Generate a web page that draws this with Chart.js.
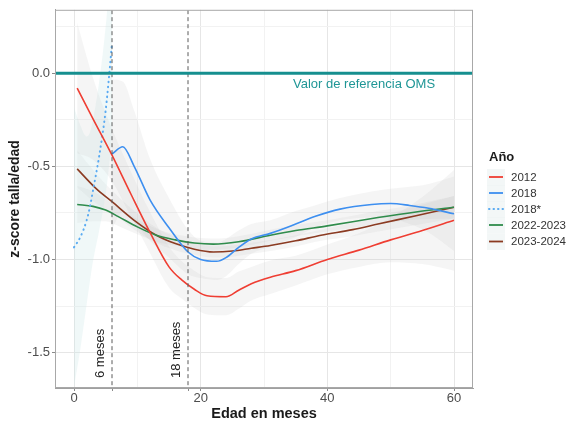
<!DOCTYPE html>
<html>
<head>
<meta charset="utf-8">
<script src="https://cdn.jsdelivr.net/npm/chart.js@4.4.1/dist/chart.umd.min.js"></script>
<style>
  html, body { margin: 0; padding: 0; background: #fff; }
  #wrap { width: 569px; height: 423px; position: relative; }
</style>
</head>
<body>
<div id="wrap"><canvas id="chart"></canvas></div>
<script>
// values (age in months, z-score)
const months2012 = [0.5, 3, 6, 9, 12, 15, 17, 19, 21, 24, 26, 28, 31, 35, 40, 45, 50, 55, 60];
const z2012 = [-0.08, -0.245, -0.44, -0.65, -0.855, -1.04, -1.11, -1.16, -1.195, -1.2, -1.165, -1.13, -1.095, -1.06, -1.0, -0.95, -0.895, -0.845, -0.79];
const ci2012 = [0.35, 0.22, 0.14, 0.12, 0.11, 0.11, 0.1, 0.1, 0.1, 0.1, 0.1, 0.09, 0.09, 0.08, 0.08, 0.09, 0.12, 0.18, 0.27];

const months2018 = [6, 7.7, 9.5, 12, 15, 18, 20, 22.5, 24, 26, 28, 31, 35, 38, 42, 47, 50, 53, 56, 60];
const z2018 = [-0.434, -0.395, -0.5, -0.68, -0.83, -0.96, -1.0, -1.01, -0.99, -0.935, -0.89, -0.86, -0.81, -0.77, -0.73, -0.705, -0.7, -0.71, -0.725, -0.755];
const ci2018 = [0.4, 0.35, 0.3, 0.22, 0.16, 0.12, 0.1, 0.1, 0.1, 0.09, 0.08, 0.07, 0.07, 0.06, 0.06, 0.07, 0.08, 0.1, 0.13, 0.2];

const months2018b = [0, 1, 2, 2.5, 3, 4, 5, 5.5, 6];
const z2018b = [-0.935, -0.88, -0.79, -0.72, -0.63, -0.44, -0.2, -0.03, 0.16];
const ci2018b = [0.75, 0.6, 0.45, 0.4, 0.38, 0.4, 0.45, 0.48, 0.5];

const months2022 = [0.5, 3, 5, 7, 10, 13, 16, 19, 22, 26, 31, 35, 40, 48, 54, 60];
const z2022 = [-0.705, -0.715, -0.735, -0.77, -0.825, -0.87, -0.895, -0.912, -0.918, -0.905, -0.87, -0.845, -0.82, -0.775, -0.745, -0.72];
const ci2022 = [0.1, 0.08, 0.06, 0.05, 0.04, 0.035, 0.03, 0.03, 0.03, 0.03, 0.03, 0.03, 0.03, 0.035, 0.04, 0.06];

const months2023 = [0.5, 3.5, 6, 9.5, 13, 16, 19, 22, 25, 28, 31, 35, 39, 44, 48, 54, 60];
const z2023 = [-0.514, -0.62, -0.69, -0.79, -0.87, -0.915, -0.945, -0.96, -0.955, -0.94, -0.925, -0.9, -0.87, -0.84, -0.81, -0.765, -0.72];
const ci2023 = [0.1, 0.08, 0.06, 0.05, 0.04, 0.035, 0.03, 0.03, 0.03, 0.03, 0.03, 0.03, 0.03, 0.035, 0.04, 0.05, 0.06];

const seriesLabels = ["2012", "2018", "2018*", "2022-2023", "2023-2024"];
const seriesColors = ["#ef3e33", "#3d8ff0", "#5aabf2", "#2f8c4c", "#8b3b22"];

const xTicks = [0, 6, 10, 18, 20, 30, 40, 50, 60];
const yTicks = [-1.5, -1.25, -1.0, -0.75, -0.5, -0.25, 0.0, 0.25];
const markerLines = [6, 18];
const markerLabels = ["6 meses", "18 meses"];

const toPoints = (xs, ys) => xs.map((x, i) => ({ x: x, y: ys[i] }));

const allSeries = [
  { months: months2012, z: z2012, ci: ci2012 },
  { months: months2018, z: z2018, ci: ci2018 },
  { months: months2018b, z: z2018b, ci: ci2018b },
  { months: months2022, z: z2022, ci: ci2022 },
  { months: months2023, z: z2023, ci: ci2023 },
];

const datasets = [];

// smoothed lines
allSeries.forEach((s, i) => {
  datasets.push({
    label: seriesLabels[i],
    data: toPoints(s.months, s.z),
    borderColor: seriesColors[i],
    borderWidth: i === 2 ? 2 : 1.6,
    borderDash: i === 2 ? [0.5, 4.5] : [],
    borderCapStyle: i === 2 ? "round" : "butt",
    cubicInterpolationMode: "monotone",
    pointRadius: 0,
    fill: false,
    order: 1,
  });
});

// reference line at 0
datasets.push({
  label: "ref",
  data: [{ x: -3, y: 0 }, { x: 63, y: 0 }],
  borderColor: "#168f8f",
  borderWidth: 3,
  pointRadius: 0,
  order: 0,
});

// vertical dashed markers
markerLines.forEach((m) => {
  datasets.push({
    label: "m" + m,
    data: [{ x: m, y: -1.75 }, { x: m, y: 0.4 }],
    borderColor: "#5a5a5a",
    borderWidth: 1,
    borderDash: [4, 3],
    pointRadius: 0,
    order: 0,
  });
});

// confidence bands (upper filled down to lower)
allSeries.forEach((s, i) => {
  const fillColor = i === 2 ? "rgba(205,232,232,0.3)" : "rgba(190,190,190,0.16)";
  datasets.push({
    label: "up" + i,
    data: toPoints(s.months, s.z.map((v, k) => v + s.ci[k])),
    borderWidth: 0,
    borderColor: "transparent",
    backgroundColor: fillColor,
    cubicInterpolationMode: "monotone",
    pointRadius: 0,
    fill: "+1",
    order: 5,
  });
  datasets.push({
    label: "lo" + i,
    data: toPoints(s.months, s.z.map((v, k) => v - s.ci[k])),
    borderWidth: 0,
    borderColor: "transparent",
    cubicInterpolationMode: "monotone",
    pointRadius: 0,
    fill: false,
    order: 5,
  });
});

const textFont = "'Liberation Sans', Arial, sans-serif";

const extrasPlugin = {
  id: "extras",
  afterDatasetsDraw(chart) {
    const ctx = chart.ctx;
    const xs = chart.scales.x;
    const ys = chart.scales.y;
    const area = chart.chartArea;
    ctx.save();

    // panel border
    ctx.strokeStyle = "#a8a8a8";
    ctx.lineWidth = 1;
    ctx.strokeRect(area.left + 0.5, area.top + 0.5, area.right - area.left - 1, area.bottom - area.top - 1);

    // reference text
    ctx.fillStyle = "#1f9696";
    ctx.font = "13px " + textFont;
    ctx.textAlign = "center";
    ctx.textBaseline = "middle";
    ctx.fillText("Valor de referencia OMS", xs.getPixelForValue(45.8), ys.getPixelForValue(-0.058));

    // marker labels, rotated
    ctx.fillStyle = "#222";
    ctx.font = "13px " + textFont;
    markerLines.forEach((m, i) => {
      const px = xs.getPixelForValue(m) - 5;
      const py = area.bottom - 10;
      ctx.save();
      ctx.translate(px, py);
      ctx.rotate(-Math.PI / 2);
      ctx.textAlign = "left";
      ctx.textBaseline = "bottom";
      ctx.fillText(markerLabels[i], 0, 0);
      ctx.restore();
    });

    // legend
    const lx = 489;
    ctx.fillStyle = "#1a1a1a";
    ctx.font = "bold 13px " + textFont;
    ctx.textAlign = "left";
    ctx.textBaseline = "middle";
    ctx.fillText("Año", lx, 157);
    const rowY = [177, 193, 209, 225, 241.5];
    ctx.font = "11.5px " + textFont;
    seriesLabels.forEach((lab, i) => {
      const y = rowY[i];
      ctx.fillStyle = "rgba(225,236,236,0.4)";
      ctx.fillRect(lx - 2, y - 8, 18, 16.5);
      ctx.strokeStyle = seriesColors[i];
      ctx.lineWidth = i === 2 ? 2 : 1.8;
      ctx.setLineDash(i === 2 ? [0.5, 4] : []);
      ctx.lineCap = i === 2 ? "round" : "butt";
      ctx.beginPath();
      ctx.moveTo(lx, y);
      ctx.lineTo(lx + 14, y);
      ctx.stroke();
      ctx.setLineDash([]);
      ctx.fillStyle = "#333";
      ctx.fillText(lab, 511, y + 0.5);
    });
    ctx.restore();
  },
};

new Chart(document.getElementById("chart"), {
  type: "line",
  data: { datasets: datasets },
  options: {
    responsive: true,
    maintainAspectRatio: false,
    animation: false,
    layout: { padding: { top: 9, right: 96, left: 0, bottom: 0 } },
    plugins: {
      legend: { display: false },
      tooltip: { enabled: false },
    },
    scales: {
      x: {
        type: "linear",
        min: -3,
        max: 63,
        afterBuildTicks: (scale) => {
          scale.ticks = xTicks.map((v) => ({ value: v }));
        },
        afterFit: (scale) => {
          scale.height = 35;
        },
        ticks: {
          autoSkip: false,
          maxRotation: 0,
          padding: 0,
          color: "#4d4d4d",
          font: { family: textFont, size: 13 },
          callback: (v) => (v % 20 === 0 ? String(v) : ""),
        },
        grid: {
          color: (c) => {
            const v = c.tick ? c.tick.value : 0;
            if (v === 6 || v === 18) return "rgba(0,0,0,0)";
            return v % 20 === 0 ? "#e6e6e6" : "#f2f2f2";
          },
          tickColor: (c) => {
            const v = c.tick ? c.tick.value : 0;
            return v % 20 === 0 || v === 6 || v === 18 ? "#8a8a8a" : "rgba(0,0,0,0)";
          },
          tickLength: 3,
          lineWidth: 1,
        },
        border: { display: true, color: "#a0a0a0" },
        title: {
          display: true,
          text: "Edad en meses",
          color: "#1a1a1a",
          font: { family: textFont, size: 14.5, weight: "bold" },
          padding: { top: 0, bottom: 0 },
        },
      },
      y: {
        type: "linear",
        min: -1.69,
        max: 0.34,
        afterBuildTicks: (scale) => {
          scale.ticks = yTicks.map((v) => ({ value: v }));
        },
        afterFit: (scale) => {
          scale.width = 55;
        },
        ticks: {
          autoSkip: false,
          padding: 2,
          color: "#4d4d4d",
          font: { family: textFont, size: 13 },
          callback: (v) => (Math.abs((v * 2) % 1) < 1e-6 ? v.toFixed(1) : ""),
        },
        grid: {
          color: (c) => {
            const v = c.tick ? c.tick.value : 0;
            return Math.abs((v * 2) % 1) < 1e-6 ? "#e6e6e6" : "#f2f2f2";
          },
          tickColor: (c) => {
            const v = c.tick ? c.tick.value : 0;
            return Math.abs((v * 2) % 1) < 1e-6 ? "#8a8a8a" : "rgba(0,0,0,0)";
          },
          tickLength: 3,
          lineWidth: 1,
        },
        border: { display: true, color: "#a0a0a0" },
        title: {
          display: true,
          text: "z-score talla/edad",
          color: "#1a1a1a",
          font: { family: textFont, size: 14, weight: "bold" },
          padding: { top: 7, bottom: 0 },
        },
      },
    },
  },
  plugins: [extrasPlugin],
});
</script>
</body>
</html>
